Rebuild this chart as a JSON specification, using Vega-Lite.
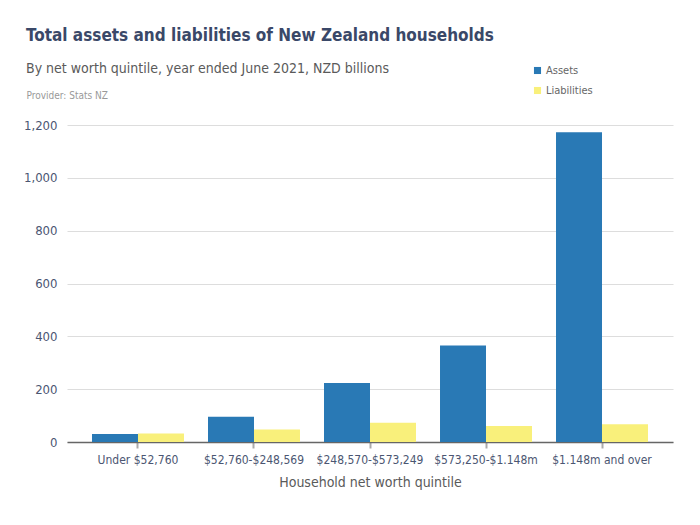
{
  "$schema": "https://vega.github.io/schema/vega-lite/v6.json",
  "width": 606,
  "height": 317,
  "autosize": {"type": "none"},
  "padding": {"left": 67, "top": 125, "right": 27, "bottom": 83},
  "background": "white",
  "title": {
    "text": "Total assets and liabilities of New Zealand households",
    "subtitle": "By net worth quintile, year ended June 2021, NZD billions",
    "anchor": "start",
    "frame": "group",
    "dx": -41,
    "offset": -12,
    "font": "DejaVu Sans Condensed, Roboto",
    "fontSize": 17,
    "fontWeight": "bold",
    "color": "#3a4868",
    "subtitleFont": "DejaVu Sans Condensed, Roboto",
    "subtitleFontSize": 14,
    "subtitleColor": "#5a5a5a",
    "subtitlePadding": 17
  },
  "data": {
    "values": [
      {"quintile": "Under $52,760", "type": "Assets", "value": 30},
      {"quintile": "Under $52,760", "type": "Liabilities", "value": 32},
      {"quintile": "$52,760-$248,569", "type": "Assets", "value": 96},
      {"quintile": "$52,760-$248,569", "type": "Liabilities", "value": 47},
      {"quintile": "$248,570-$573,249", "type": "Assets", "value": 223},
      {"quintile": "$248,570-$573,249", "type": "Liabilities", "value": 73},
      {"quintile": "$573,250-$1.148m", "type": "Assets", "value": 365},
      {"quintile": "$573,250-$1.148m", "type": "Liabilities", "value": 61},
      {"quintile": "$1.148m and over", "type": "Assets", "value": 1173},
      {"quintile": "$1.148m and over", "type": "Liabilities", "value": 67}
    ]
  },
  "mark": {"type": "bar"},
  "encoding": {
    "x": {
      "field": "quintile",
      "type": "nominal",
      "sort": null,
      "scale": {"paddingInner": 0.207, "paddingOuter": 0.2155},
      "axis": {
        "title": "Household net worth quintile",
        "titleFont": "DejaVu Sans Condensed, Roboto",
        "titleFontSize": 14,
        "titleFontWeight": "normal",
        "titleColor": "#5a5a5a",
        "titlePadding": 10,
        "labelAngle": 0,
        "labelFont": "DejaVu Sans Condensed, Roboto",
        "labelFontSize": 12,
        "labelColor": "#4b5672",
        "labelPadding": 6,
        "domainColor": "#666666",
        "domainWidth": 1.5,
        "tickColor": "#aaaaaa",
        "tickSize": 6,
        "tickWidth": 2,
        "grid": false
      }
    },
    "xOffset": {"field": "type", "type": "nominal"},
    "y": {
      "field": "value",
      "type": "quantitative",
      "scale": {"domain": [0, 1200], "nice": false},
      "axis": {
        "title": "Provider: Stats NZ",
        "titleAngle": 0,
        "titleAlign": "left",
        "titleBaseline": "alphabetic",
        "titleX": -41,
        "titleY": -27,
        "titleFont": "DejaVu Sans Condensed, Roboto",
        "titleFontSize": 10,
        "titleFontWeight": "normal",
        "titleColor": "#999999",
        "values": [0, 200, 400, 600, 800, 1000, 1200],
        "format": ",d",
        "labelFont": "DejaVu Sans Condensed, Roboto",
        "labelFontSize": 13,
        "labelColor": "#4b5672",
        "labelPadding": 10,
        "domain": false,
        "ticks": false,
        "gridColor": "#dddddd",
        "gridWidth": 1
      }
    },
    "color": {
      "field": "type",
      "type": "nominal",
      "scale": {"domain": ["Assets", "Liabilities"], "range": ["#2979b5", "#f9f07b"]},
      "legend": {
        "title": null,
        "orient": "none",
        "legendX": 465,
        "legendY": -60,
        "symbolType": "square",
        "symbolSize": 50,
        "symbolStrokeWidth": 0,
        "labelFont": "DejaVu Sans Condensed, Roboto",
        "labelFontSize": 11,
        "labelColor": "#666666",
        "rowPadding": 8,
        "labelOffset": 3
      }
    }
  },
  "config": {
    "view": {"stroke": null},
    "axis": {"zindex": 0}
  }
}
